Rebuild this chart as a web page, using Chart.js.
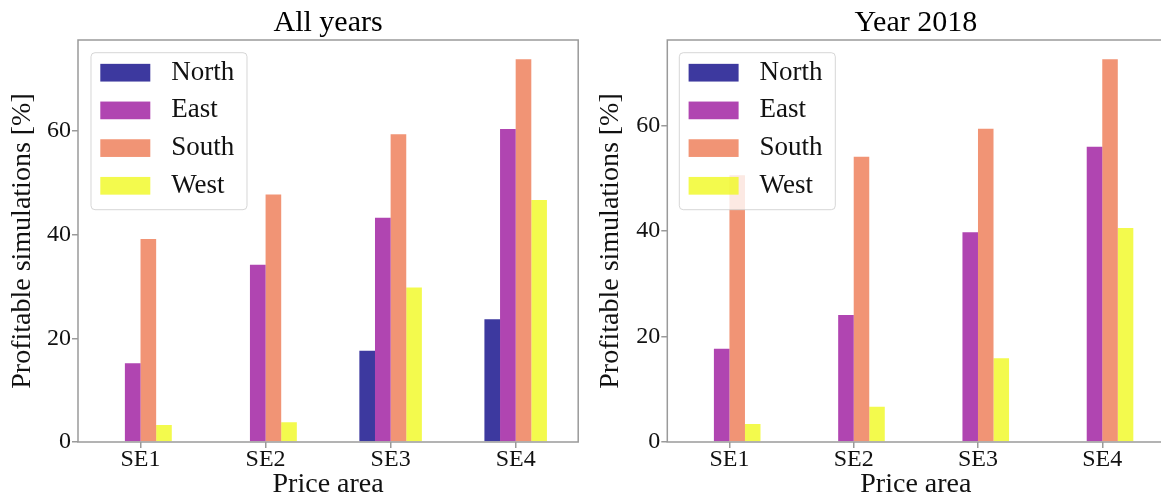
<!DOCTYPE html>
<html>
<head>
<meta charset="utf-8">
<script src="https://cdn.jsdelivr.net/npm/chart.js@4"></script>
<style>
html,body{margin:0;padding:0;background:#fff;overflow:hidden;width:1161px;height:499px;position:relative}
canvas{position:absolute;top:0}
</style>
</head>
<body>
<canvas id="c1" width="580" height="499" style="left:0"></canvas>
<canvas id="c2" width="640" height="499" style="left:580px"></canvas>
<script>
// ---- data ----
const categories = ['SE1', 'SE2', 'SE3', 'SE4'];
const seriesNames = ['North', 'East', 'South', 'West'];
const yTickValues = [0, 20, 40, 60];

const allNorth = [0, 0, 17.6, 23.7];
const allEast  = [15.2, 34.2, 43.3, 60.4];
const allSouth = [39.2, 47.8, 59.4, 73.9];
const allWest  = [3.3, 3.8, 29.8, 46.7];

const y2018North = [0, 0, 0, 0];
const y2018East  = [17.7, 24.1, 39.8, 56.0];
const y2018South = [50.6, 54.1, 59.4, 72.6];
const y2018West  = [3.4, 6.7, 15.9, 40.6];

const titleAll = 'All years';
const title2018 = 'Year 2018';
const xLabel = 'Price area';
const yLabel = 'Profitable simulations [%]';

const colors = ['rgba(13,8,135,0.8)', 'rgba(156,23,158,0.8)', 'rgba(237,121,83,0.8)', 'rgba(240,249,33,0.8)'];
const FONT = '"Liberation Serif", "Times New Roman", serif';
const SPINE = '#9a9a9a';

const frameLegendPlugin = {
  id: 'frameLegend',
  afterDatasetsDraw(chart, args, opts) {
    const ctx = chart.ctx, a = chart.chartArea;
    ctx.save();
    // frame (spines)
    ctx.strokeStyle = SPINE;
    ctx.lineWidth = 1.5;
    ctx.beginPath();
    ctx.moveTo(a.right, a.top);
    ctx.lineTo(a.left, a.top);
    ctx.lineTo(a.left, a.bottom);
    ctx.lineTo(a.right, a.bottom);
    if (opts.rightSpine) ctx.closePath();
    ctx.stroke();
    // legend box
    const bx = a.left + opts.dx, by = a.top + opts.dy, bw = 156, bh = 157;
    ctx.beginPath();
    if (ctx.roundRect) ctx.roundRect(bx, by, bw, bh, 4); else ctx.rect(bx, by, bw, bh);
    ctx.fillStyle = 'rgba(255,255,255,0.8)';
    ctx.fill();
    ctx.strokeStyle = 'rgba(204,204,204,0.8)';
    ctx.lineWidth = 1;
    ctx.stroke();
    ctx.font = '27px ' + FONT;
    ctx.textBaseline = 'middle';
    ctx.textAlign = 'left';
    chart.data.datasets.forEach((ds, i) => {
      const cy = by + 20 + i * 37.7;
      ctx.fillStyle = ds.backgroundColor;
      ctx.fillRect(bx + 9.3, cy - 8.85, 50, 17.7);
      ctx.fillStyle = '#111';
      ctx.fillText(ds.label, bx + 80.3, cy);
    });
    ctx.restore();
  }
};

function makeChart(id, series, title, yMax, yWidth, padRight, yTitlePad, legendDx, legendDy, rightSpine) {
  return new Chart(document.getElementById(id), {
    type: 'bar',
    data: {
      labels: categories,
      datasets: series.map((vals, i) => ({
        label: seriesNames[i],
        data: vals,
        backgroundColor: colors[i],
        borderWidth: 0,
        categoryPercentage: 0.5,
        barPercentage: 1.0
      }))
    },
    options: {
      responsive: false,
      animation: false,
      devicePixelRatio: 1,
      layout: { padding: { left: 0, right: padRight, top: 0, bottom: 0 } },
      plugins: {
        legend: { display: false },
        tooltip: { enabled: false },
        title: {
          display: true,
          text: title,
          fullSize: false,
          color: '#000',
          font: { family: FONT, size: 30, weight: 'normal', lineHeight: 1 },
          padding: { top: 8, bottom: 2 }
        },
        frameLegend: { dx: legendDx, dy: legendDy, rightSpine: rightSpine }
      },
      scales: {
        x: {
          type: 'category',
          offset: true,
          grid: { display: true, drawOnChartArea: false, drawTicks: true, tickLength: 6, offset: false, color: SPINE, lineWidth: 1.5 },
          border: { display: false },
          ticks: { color: '#111', padding: 0, maxRotation: 0, font: { family: FONT, size: 24, lineHeight: 1 } },
          title: { display: true, text: xLabel, color: '#111', padding: 0, font: { family: FONT, size: 28, lineHeight: 1 } },
          afterFit(scale) { scale.height = 57; }
        },
        y: {
          min: 0,
          max: yMax,
          grid: { display: true, drawOnChartArea: false, drawTicks: true, tickLength: 6, color: SPINE, lineWidth: 1.5 },
          border: { display: false },
          ticks: { color: '#111', padding: 1, font: { family: FONT, size: 24, lineHeight: 1 } },
          afterBuildTicks(scale) { scale.ticks = yTickValues.map(v => ({ value: v })); },
          title: { display: true, text: yLabel, color: '#111', padding: { top: yTitlePad, bottom: 0 }, font: { family: FONT, size: 28, lineHeight: 1 } },
          afterFit(scale) { scale.width = yWidth; }
        }
      }
    },
    plugins: [frameLegendPlugin]
  });
}

makeChart('c1', [allNorth, allEast, allSouth, allWest], titleAll, 77.6, 78, 1.8, 9, 13, 12.7, true);
makeChart('c2', [y2018North, y2018East, y2018South, y2018West], title2018, 76.25, 87.3, 55.6, 17, 12, 12.7, false);
</script>
</body>
</html>
